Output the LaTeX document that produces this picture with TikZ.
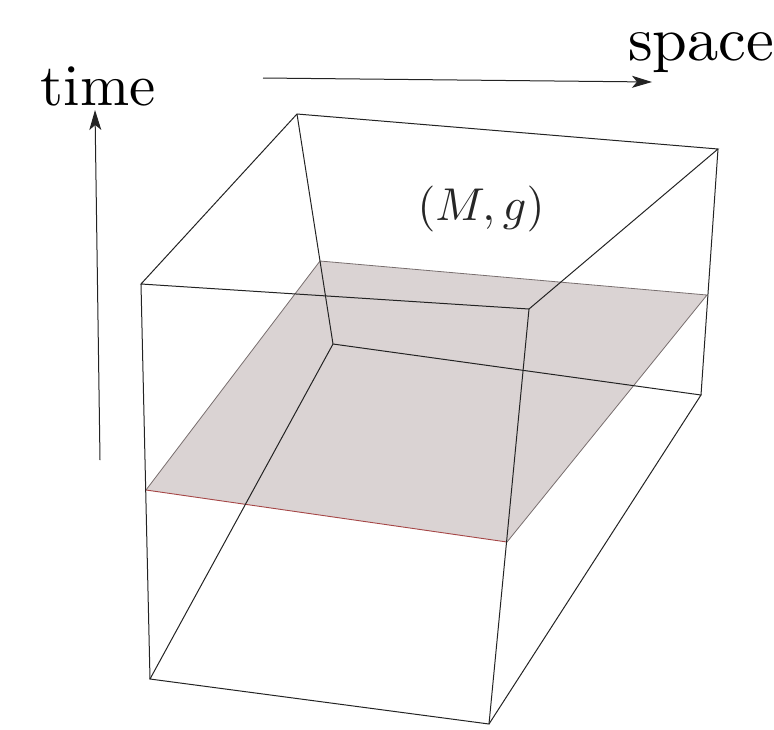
\documentclass[tikz,border=0pt]{standalone}
\usetikzlibrary{arrows.meta}
\definecolor{planefill}{RGB}{218,211,211}
\definecolor{planeedge}{RGB}{120,110,110}
\definecolor{frontedge}{RGB}{165,70,70}
\definecolor{edgecol}{RGB}{35,35,35}
\begin{document}
\begin{tikzpicture}[x=1pt,y=-1pt,
  edge/.style={draw=edgecol,line width=1pt},
  axis/.style={draw=edgecol,line width=1pt,-{Stealth[length=20pt,width=12pt,inset=5pt]}},
  lbl/.style={inner sep=0pt,anchor=base,scale=5.9},
  mlbl/.style={inner sep=0pt,scale=4.6,text=black!85}]
\useasboundingbox (0,0) rectangle (774,729);
% box vertices
\coordinate (A) at (297,114);
\coordinate (B) at (718,149);
\coordinate (C) at (529,309);
\coordinate (D) at (141,284);
\coordinate (H) at (333,344);
\coordinate (G) at (701,395);
\coordinate (F) at (489,724);
\coordinate (E) at (150,679);
% plane vertices
\coordinate (P1) at (320,261);
\coordinate (P2) at (707,295);
\coordinate (P3) at (507,542);
\coordinate (P4) at (146,490);
% plane
\fill[planefill] (P1) -- (P2) -- (P3) -- (P4) -- cycle;
\draw[planeedge,line width=0.8pt] (P4) -- (P1) -- (P2) -- (P3);
\draw[frontedge,line width=0.9pt] (P4) -- (P3);
% box edges
\draw[edge] (A) -- (B) -- (C) -- (D) -- cycle;
\draw[edge] (A) -- (H);
\draw[edge] (B) -- (G);
\draw[edge] (C) -- (F);
\draw[edge] (D) -- (E);
\draw[edge] (H) -- (G) -- (F) -- (E) -- cycle;
% axes
\coordinate (t0) at (100,460);
\coordinate (t1) at (95,110);
\coordinate (s0) at (263,78);
\coordinate (s1) at (652,82);
\draw[axis] (t0) -- (t1);
\draw[axis] (s0) -- (s1);
% labels
\node[lbl] (time) at (98,105) {time};
\node[lbl,anchor=base west,scale=6.25/5.9] (space) at (627,60) {space};
\node[mlbl] (Mg) at (481,209) {$(M,g)$};
\end{tikzpicture}
\end{document}
